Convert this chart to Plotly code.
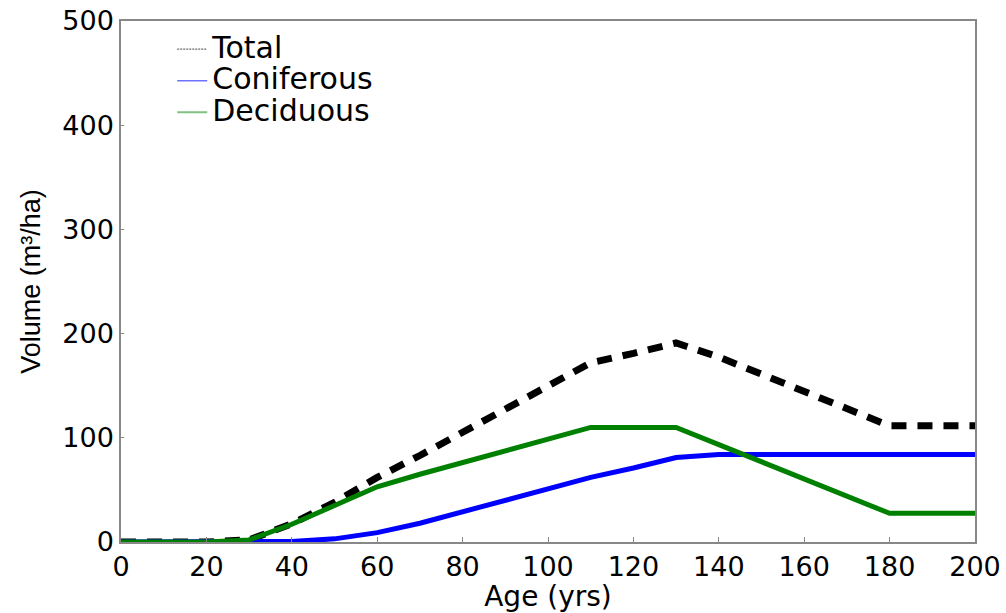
import plotly.graph_objects as go

age = [0, 10, 20, 30, 40, 50, 60, 70, 80, 90, 100, 110, 120, 130, 140, 150, 160, 170, 180, 190, 200]
coniferous = [0, 0, 0, 0, 0.5, 3, 9, 18, 29, 40, 51, 62, 71, 81, 84, 84, 84, 84, 84, 84, 84]
deciduous = [0, 0, 0, 2, 17, 35, 53, 65, 76, 88, 99, 110, 110, 110, 93.5, 77, 60.5, 44, 27.5, 27.5, 27.5]
total = [0, 0, 0, 2, 17.5, 38, 62, 83, 105, 128, 150, 172, 181, 191, 177.5, 161, 144.5, 128, 111.5, 111.5, 111.5]

x_ticks = [0, 20, 40, 60, 80, 100, 120, 140, 160, 180, 200]
y_ticks = [0, 100, 200, 300, 400, 500]

FONT = "DejaVu Sans, Liberation Sans, Arial, sans-serif"

def big(t):
    return "<span style='font-size:30px'>" + t + "</span>"

fig = go.Figure()
# plotted lines
fig.add_trace(go.Scatter(x=age, y=total, mode="lines", showlegend=False,
                         line=dict(color="black", width=7, dash="15px,11px")))
fig.add_trace(go.Scatter(x=age, y=coniferous, mode="lines", showlegend=False,
                         line=dict(color="#0000ff", width=5)))
fig.add_trace(go.Scatter(x=age, y=deciduous, mode="lines", showlegend=False,
                         line=dict(color="#008000", width=5)))
# legend entries (thin lines as in the reference legend)
fig.add_trace(go.Scatter(x=[None], y=[None], mode="lines", name=big("Total"),
                         line=dict(color="#444444", width=1, dash="2px,1px")))
fig.add_trace(go.Scatter(x=[None], y=[None], mode="lines", name=big("Coniferous"),
                         line=dict(color="#7070ff", width=1.5)))
fig.add_trace(go.Scatter(x=[None], y=[None], mode="lines", name=big("Deciduous"),
                         line=dict(color="#80c080", width=2)))

tick_font = dict(family=FONT, size=27, color="black")

fig.update_layout(
    width=1006, height=613,
    margin=dict(l=121, r=31, t=21, b=71),
    paper_bgcolor="white", plot_bgcolor="white",
    font=tick_font,
    legend=dict(x=0.06, y=0.986, xanchor="left", yanchor="top",
                bgcolor="rgba(0,0,0,0)", font=dict(size=22, family=FONT, color="black"),
                tracegroupgap=0, itemwidth=30),
    xaxis=dict(range=[0, 200], tickvals=x_ticks, ticktext=[str(v) for v in x_ticks],
               automargin=False,
               showgrid=False, zeroline=False, showline=True, linecolor="#888888", linewidth=1.5,
               mirror=True, ticks="inside", ticklen=5, tickcolor="#888888",
               tickfont=tick_font,
               title=dict(text="Age (yrs)", font=dict(family=FONT, size=28, color="black"), standoff=7)),
    yaxis=dict(range=[0, 500], tickvals=y_ticks, ticktext=[str(v) for v in y_ticks],
               automargin=False,
               showgrid=False, zeroline=False, showline=True, linecolor="#888888", linewidth=1.5,
               mirror=True, ticks="inside", ticklen=3, tickcolor="#888888",
               tickfont=tick_font, ticklabelstandoff=0,
               title=dict(text="Volume (m³/ha)",
                          font=dict(family="Liberation Sans Narrow, Arial Narrow, sans-serif", size=27, color="black"),
                          standoff=14)),
)

fig.write_html("out.html", config={"displayModeBar": False},
               post_script="document.body.style.margin='0px';")
